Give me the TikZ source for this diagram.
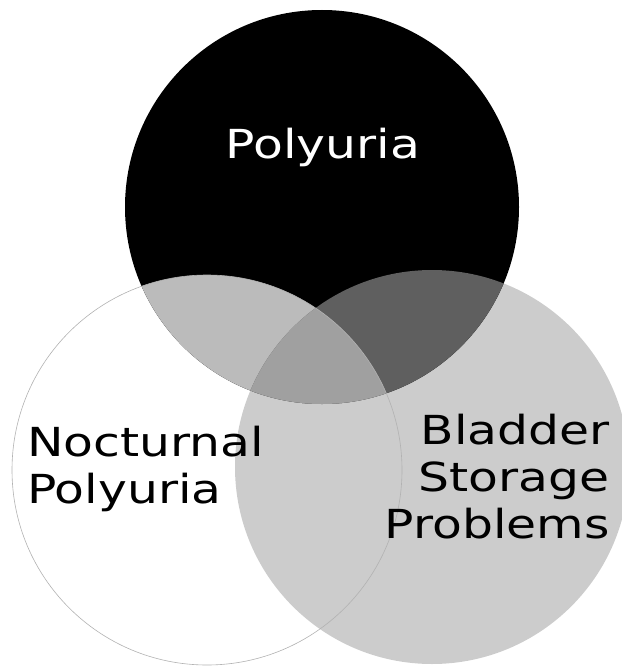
\documentclass[tikz,border=0pt]{standalone}
\usepackage{fontspec}
\setmainfont{DejaVu Sans}[FakeStretch=1.22]
\usepackage{xcolor}
\usepackage{tikz}
\definecolor{setgray}{HTML}{CCCCCC}
\definecolor{pairgray}{HTML}{BBBBBB}
\definecolor{darkpair}{HTML}{5F5F5F}
\definecolor{tripgray}{HTML}{A0A0A0}
\newcommand{\polycirc}{(poly) circle[radius=197pt]}
\newcommand{\noctcirc}{(noct) circle[radius=195pt]}
\newcommand{\bladcirc}{(blad) circle[radius=197pt]}

\begin{document}
\begin{tikzpicture}[
  x=1pt, y=-1pt,
  venntext/.style={inner sep=0pt, font=\fontsize{40}{47}\selectfont},
  outline/.style={draw=gray!60, line width=0.6pt},
]
\useasboundingbox (0,0) rectangle (621,666);
\coordinate (poly) at (322,207);
\coordinate (noct) at (207,470);
\coordinate (blad) at (432,467);

% the three sets
\fill[white] \noctcirc;
\fill[setgray] \bladcirc;
\fill[black] \polycirc;

% overlaps
\begin{scope}
  \clip \polycirc;
  \fill[pairgray] \noctcirc;
  \fill[darkpair] \bladcirc;
  \clip \noctcirc;
  \fill[tripgray] \bladcirc;
\end{scope}
\draw[outline] \noctcirc;

\node[venntext, text=white, anchor=base] (polytxt) at (323,158) {Polyuria};
\node[venntext, align=left, anchor=base west] (nocttxt) at (27,503) {Nocturnal\\Polyuria};
\node[venntext, align=right, anchor=base east] (bladtxt) at (610,538) {Bladder\\Storage\\Problems};
\end{tikzpicture}
\end{document}
